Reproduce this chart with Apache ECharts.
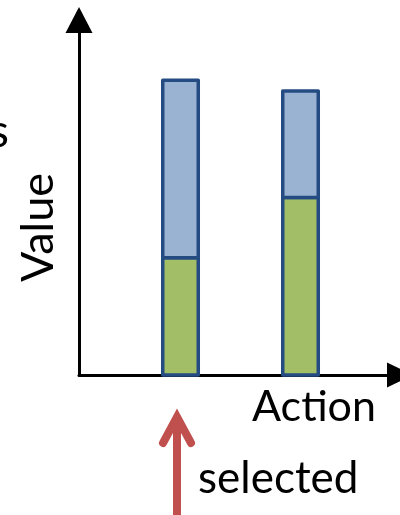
<!DOCTYPE html>
<html>
<head>
<meta charset="utf-8">
<script src="https://cdn.jsdelivr.net/npm/echarts@6/dist/echarts.min.js"></script>
<style>
html,body{margin:0;padding:0;background:#fff;}
#main{width:400px;height:515px;}
</style>
</head>
<body>
<div id="main"></div>
<script>
// Data
var categories = ['A', 'B'];
var greenValues = [33, 50];   // lower segment
var blueValues = [50, 30];    // upper segment
var yAxisName = 'Value';
var xAxisName = 'Action';
var annotationText = 'selected';

var FONT = 'Lato';
var GREEN = '#A2BF67', BLUE = '#9BB3D2', BORDER = '#244C82';
var chart = echarts.init(document.getElementById('main'), null, {renderer: 'canvas'});

var stackData = categories.map(function (c, i) { return [i, greenValues[i], blueValues[i]]; });

function renderStack(params, api) {
  var idx = api.value(0), g = api.value(1), b = api.value(2);
  var p0 = api.coord([idx, 0]);
  var p1 = api.coord([idx, g]);
  var p2 = api.coord([idx, g + b]);
  var w = api.size([1, 0])[0] * 0.296;
  var x = p0[0] - w / 2;
  var stroke = {stroke: BORDER, lineWidth: 3.5, lineJoin: 'round'};
  return {
    type: 'group',
    children: [
      {type: 'rect', shape: {x: x, y: p1[1], width: w, height: p0[1] - p1[1]},
        style: echarts.util.extend({fill: GREEN}, stroke)},
      {type: 'rect', shape: {x: x, y: p2[1], width: w, height: p1[1] - p2[1]},
        style: echarts.util.extend({fill: BLUE}, stroke)}
    ]
  };
}

var option = {
  animation: false,
  backgroundColor: '#ffffff',
  grid: [
    // grid holding the axis lines with arrows
    {left: 79, right: 0, top: 20, bottom: 140, containLabel: false},
    // grid holding the bars (two categories, 120px bands)
    {left: 120.5, right: 39.5, top: 20, bottom: 140, containLabel: false}
  ],
  xAxis: [
    {
      gridIndex: 0, type: 'value', min: 0, max: 1,
      axisLine: {show: true, onZero: false, symbol: ['none', 'triangle'], symbolSize: [25, 26],
        lineStyle: {color: '#000', width: 3}},
      axisTick: {show: false}, axisLabel: {show: false}, splitLine: {show: false},
      name: xAxisName, nameLocation: 'end', nameGap: 0,
      nameTextStyle: {fontFamily: FONT, fontSize: 43, color: '#000', align: 'right', verticalAlign: 'top', padding: [11, 24, 0, 0]}
    },
    {
      gridIndex: 1, type: 'category', data: categories, boundaryGap: true,
      axisLine: {show: false}, axisTick: {show: false}, axisLabel: {show: false}, splitLine: {show: false}
    }
  ],
  yAxis: [
    {
      gridIndex: 0, type: 'value', min: 0, max: 100,
      axisLine: {show: true, onZero: false, symbol: ['none', 'triangle'], symbolSize: [27, 26],
        lineStyle: {color: '#000', width: 3}},
      axisTick: {show: false}, axisLabel: {show: false}, splitLine: {show: false},
      name: yAxisName, nameLocation: 'middle', nameGap: 18,
      nameTextStyle: {fontFamily: FONT, fontSize: 45, color: '#000', padding: [0, 60, 0, 0]}
    },
    {
      gridIndex: 1, type: 'value', min: 0, max: 100,
      axisLine: {show: false}, axisTick: {show: false}, axisLabel: {show: false}, splitLine: {show: false}
    }
  ],
  series: [
    {type: 'custom', name: 'stack', xAxisIndex: 1, yAxisIndex: 1, data: stackData,
      renderItem: renderStack, encode: {x: 0, y: [1, 2]}}
  ],
  graphic: [
    {type: 'text', style: {text: 's', x: 9, y: 132, align: 'right', verticalAlign: 'middle', font: '46px ' + FONT, fill: '#000'}},
    {type: 'line', shape: {x1: 177, y1: 420, x2: 177, y2: 520}, style: {stroke: '#C0504D', lineWidth: 8}},
    {type: 'polyline', shape: {points: [[163, 443], [177, 417], [191, 443]]}, style: {stroke: '#C0504D', lineWidth: 8, lineCap: 'round', lineJoin: 'miter', fill: null}},
    {type: 'text', style: {text: annotationText, x: 198, y: 479, align: 'left', verticalAlign: 'middle', font: '44px ' + FONT, fill: '#000'}}
  ]
};
chart.setOption(option);
</script>
</body>
</html>
